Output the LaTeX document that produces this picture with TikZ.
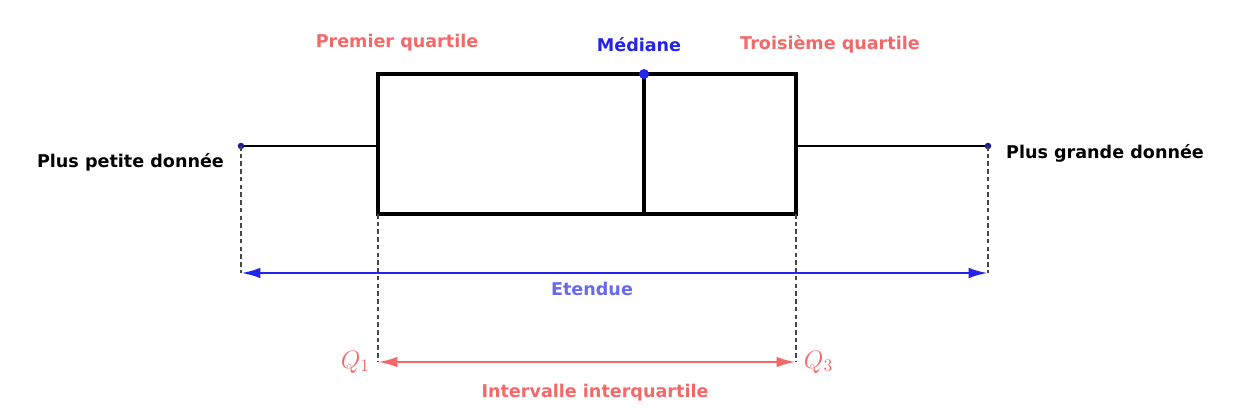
\documentclass[tikz,border=0pt]{standalone}
\usepackage{fontspec}
\setsansfont{DejaVu Sans}
\usepackage{xcolor}
\usepackage{tikz}
\usetikzlibrary{positioning,arrows.meta}
\definecolor{salmon}{RGB}{244,104,104}
\definecolor{royal}{RGB}{35,35,235}
\definecolor{lavender}{RGB}{105,105,240}
\definecolor{dashgray}{RGB}{70,70,70}

\begin{document}
\begin{tikzpicture}[font=\sffamily\bfseries\fontsize{10}{12}\selectfont,
 lbl/.style={inner sep=1pt},
 guide/.style={dashgray,dash pattern=on 2.6pt off 1.8pt,line width=0.6pt},
 span/.style={{Latex[length=11pt,width=6pt]}-{Latex[length=11pt,width=6pt]},line width=1.5pt}]
 \useasboundingbox (0,0) rectangle (24.74,8.28);
 % five numbers
 \coordinate (lo) at (4.82,5.36);
 \coordinate (hi) at (19.76,5.36);
 \coordinate (q1t) at (7.56,6.80);
 \coordinate (q3b) at (15.92,4.00);
 \coordinate (medt) at (12.88,6.80);
 \coordinate (medb) at (12.88,4.00);
 \coordinate (q1m) at (7.56,5.36);
 \coordinate (q3m) at (15.92,5.36);
 \coordinate (q1b) at (7.56,4.00);
 \coordinate (q3t) at (15.92,6.80);
 \coordinate (etl) at (4.82,2.82);
 \coordinate (etr) at (19.76,2.82);
 \coordinate (iql) at (7.56,1.04);
 \coordinate (iqr) at (15.92,1.04);
 % box and whiskers
 \draw[line width=2.1pt] (q1t) rectangle (q3b);
 \draw[line width=1.9pt] (medt)--(medb);
 \draw[line width=1pt] (lo)--(q1m);
 \draw[line width=1pt] (q3m)--(hi);
 \fill[royal!70!black] (lo) circle (0.065);
 \fill[royal!70!black] (hi) circle (0.065);
 \fill[royal] (medt) circle (0.1);
 % guides
 \draw[guide] (lo)--(etl);
 \draw[guide] (hi)--(etr);
 \draw[guide] (q1b)--(iql);
 \draw[guide] (q3b)--(iqr);
 \draw[span,royal] (etl)--(etr);
 \draw[span,salmon] (iql)--(iqr);
 % labels
 \node[lbl,salmon] (pq) at (7.94,7.42) {Premier quartile};
 \node[lbl,royal] (me) at (12.78,7.38) {Médiane};
 \node[lbl,salmon] (tq) at (16.6,7.40) {Troisième quartile};
 \node[lbl,anchor=east] (ppd) at (4.52,5.04) {Plus petite donnée};
 \node[lbl,anchor=west] (pgd) at (20.08,5.22) {Plus grande donnée};
 \node[lbl,lavender] (et) at (11.84,2.50) {Etendue};
 \node[lbl,salmon] (iq) at (11.90,0.42) {Intervalle interquartile};
 \node[salmon,left=1pt of iql,font=\Large] (Q1) {$Q_1$};
 \node[salmon,right=1pt of iqr,font=\Large] (Q3) {$Q_3$};
\end{tikzpicture}
\end{document}
